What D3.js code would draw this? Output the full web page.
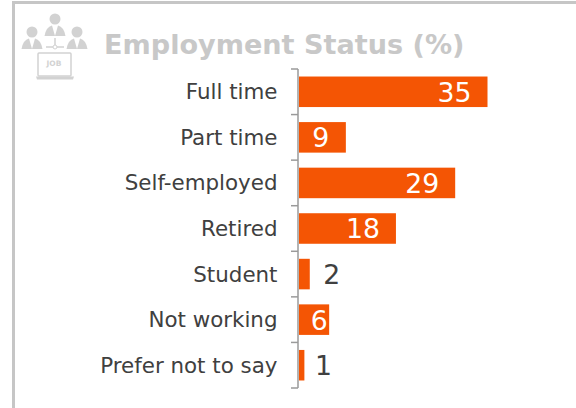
<!DOCTYPE html>
<html>
<head>
<meta charset="utf-8">
<script src="https://cdnjs.cloudflare.com/ajax/libs/d3/7.8.5/d3.min.js"></script>
<style>
  html, body { margin: 0; padding: 0; background: #fff; }
  text { font-family: "DejaVu Sans", sans-serif; }
</style>
</head>
<body>
<div id="chart"></div>
<script>
// Chart data
const categories = ['Full time', 'Part time', 'Self-employed', 'Retired', 'Student', 'Not working', 'Prefer not to say'];
const values = [35, 8.7, 29, 18, 2, 5.6, 1];
const titleText = 'Employment Status (%)';

const width = 576;
const height = 408;
const barColor = '#f45504';
const iconColor = '#d2d2d2';

const svg = d3.select('#chart')
  .append('svg')
  .attr('width', width)
  .attr('height', height)
  .style('display', 'block');

// Frame (top and left edges only, the rest is cropped)
svg.append('path')
  .attr('d', `M13.5,${height}V2.5H${width}`)
  .attr('fill', 'none')
  .attr('stroke', '#c6c6c6')
  .attr('stroke-width', 3);

// Scales
const x = d3.scaleLinear().domain([0, 35]).range([299, 487.5]);
const y = d3.scaleBand().domain(categories).range([69, 388]).paddingInner(0.33).paddingOuter(0.165);
const band = d3.scaleBand().domain(categories).range([69, 388]);

// Title
svg.append('text')
  .attr('x', 104)
  .attr('y', 54)
  .attr('font-size', 27.1)
  .attr('font-weight', 'bold')
  .attr('fill', '#c8c8c8')
  .text(titleText);

// Icon: three people over a laptop
const icon = svg.append('g').attr('fill', iconColor);
function person(cx, cy) {
  icon.append('circle').attr('cx', cx).attr('cy', cy).attr('r', 5.5);
  icon.append('path')
    .attr('d', `M${cx - 10.5},${cy + 17}Q${cx - 9},${cy + 8} ${cx - 3},${cy + 6.5}L${cx},${cy + 17}L${cx + 3},${cy + 6.5}Q${cx + 9},${cy + 8} ${cx + 10.5},${cy + 17}Z`);
}
person(32, 32);
person(55, 19);
person(77, 32);
icon.append('path')
  .attr('d', 'M55,38V46M46,47H64')
  .attr('fill', 'none')
  .attr('stroke', iconColor)
  .attr('stroke-width', 1.5);
icon.append('circle').attr('cx', 55).attr('cy', 47).attr('r', 2).attr('fill', '#fff').attr('stroke', iconColor);
icon.append('rect')
  .attr('x', 38).attr('y', 53).attr('width', 33).attr('height', 23).attr('rx', 1)
  .attr('fill', '#fff').attr('stroke', iconColor).attr('stroke-width', 1.5);
icon.append('path').attr('d', 'M36,76.5H74L73,79.5H37Z');
icon.append('text')
  .attr('x', 54).attr('y', 66)
  .attr('text-anchor', 'middle')
  .attr('font-size', 7.5)
  .attr('font-weight', 'bold')
  .text('JOB');

// Bars
svg.selectAll('.bar')
  .data(values)
  .enter()
  .append('rect')
  .attr('class', 'bar')
  .attr('x', x(0))
  .attr('y', (d, i) => y(categories[i]))
  .attr('width', d => x(d) - x(0))
  .attr('height', y.bandwidth())
  .attr('fill', barColor);

// Axis with ticks on the band edges
const axisColor = '#9a9a9a';
const edges = d3.range(categories.length + 1).map(i => 69 + i * band.step());
svg.append('line')
  .attr('x1', 298).attr('x2', 298)
  .attr('y1', edges[0]).attr('y2', edges[edges.length - 1])
  .attr('stroke', axisColor)
  .attr('stroke-width', 1.5);
svg.selectAll('.tick-mark')
  .data(edges)
  .enter()
  .append('line')
  .attr('class', 'tick-mark')
  .attr('x1', 291).attr('x2', 298)
  .attr('y1', d => d).attr('y2', d => d)
  .attr('stroke', axisColor)
  .attr('stroke-width', 1.5);

// Category labels
svg.selectAll('.cat-label')
  .data(categories)
  .enter()
  .append('text')
  .attr('class', 'cat-label')
  .attr('x', 277.5)
  .attr('y', d => band(d) + band.bandwidth() / 2)
  .attr('dy', '0.35em')
  .attr('text-anchor', 'end')
  .attr('font-size', 21.4)
  .attr('fill', '#404040')
  .text(d => d);

// Value labels: inside the bar when it fits, beside it otherwise
svg.selectAll('.val-label')
  .data(values)
  .enter()
  .append('text')
  .attr('class', 'val-label')
  .attr('x', d => {
    if (d >= 18) return x(d) - 16;
    if (d > 8) return x(d) - 25;
    if (d > 5) return x(d) - 10;
    if (d > 1) return x(d) + 22;
    return x(d) + 19;
  })
  .attr('y', (d, i) => band(categories[i]) + band.bandwidth() / 2)
  .attr('dy', '0.37em')
  .attr('text-anchor', d => (d >= 18 ? 'end' : 'middle'))
  .attr('font-size', 26.7)
  .attr('fill', d => (d > 2 ? '#fff' : '#404040'))
  .text(d => Math.round(d));
</script>
</body>
</html>
